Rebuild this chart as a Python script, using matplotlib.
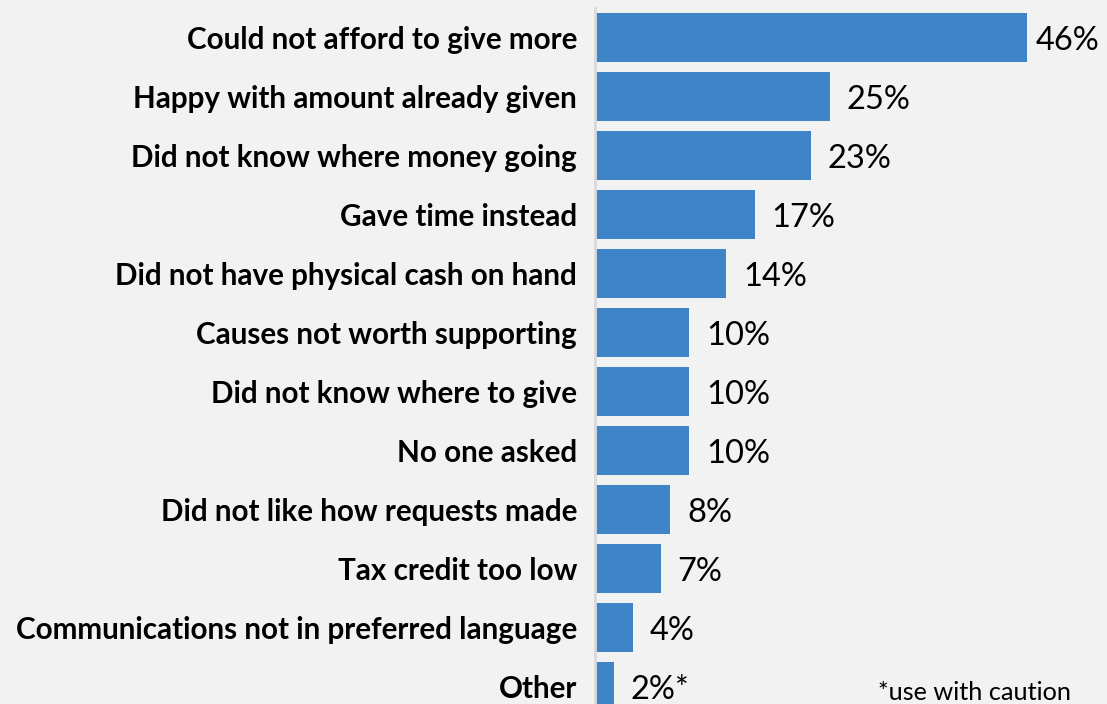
import matplotlib.pyplot as plt

categories = [
    "Could not afford to give more",
    "Happy with amount already given",
    "Did not know where money going",
    "Gave time instead",
    "Did not have physical cash on hand",
    "Causes not worth supporting",
    "Did not know where to give",
    "No one asked",
    "Did not like how requests made",
    "Tax credit too low",
    "Communications not in preferred language",
    "Other",
]
values = [46, 25, 23, 17, 14, 10, 10, 10, 8, 7, 4, 2]
value_labels = ["46%", "25%", "23%", "17%", "14%", "10%", "10%", "10%", "8%", "7%", "4%", "2%*"]
note = "*use with caution"

BG = "#f2f2f2"
BAR = "#3f84c6"
FONT = ["Lato", "DejaVu Sans"]

fig = plt.figure(figsize=(11.07, 7.04), dpi=100, facecolor=BG)
ax = fig.add_axes([595 / 1107, 0, 1 - 595 / 1107, 1 - 8 / 704])
ax.set_facecolor(BG)

y = list(range(len(categories)))
ax.barh(y, values, height=0.83, color=BAR)
xmax = 512 / 9.39
ax.set_xlim(0, xmax)
ax.set_ylim((704 - 37.5) / 59, -0.5)

# value labels sit just past the bar end; the longest one is pulled in to fit
for yi, v, lab in zip(y, values, value_labels):
    x = min(v + 1.8, xmax - 7.65)
    ax.text(x, yi + 0.06, lab, va="center", ha="left", fontsize=23.5,
            family=FONT, color="#000000")

ax.set_yticks(y)
ax.set_yticklabels(categories, fontsize=21.3, fontweight="bold", family=FONT)
ax.tick_params(axis="y", length=0, pad=13)
ax.set_xticks([])
for side in ["top", "right", "bottom"]:
    ax.spines[side].set_visible(False)
ax.spines["left"].set_color("#d9d9d9")
ax.spines["left"].set_linewidth(2)

fig.text(974 / 1107, 1 - 692 / 704, note, ha="center", va="center",
         fontsize=18.2, family=FONT, color="#000000")

fig.savefig("out.png", dpi=100, facecolor=BG)
